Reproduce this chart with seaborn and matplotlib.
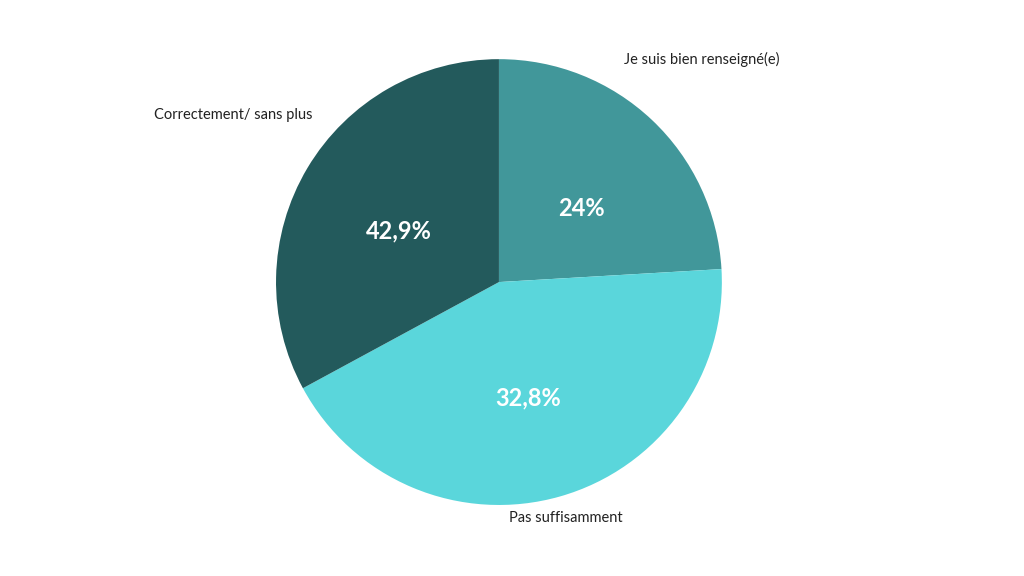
import matplotlib
matplotlib.use("Agg")
import matplotlib.pyplot as plt
import seaborn as sns

sns.set_theme(style="white")
plt.rcParams['font.family'] = ['Lato', 'DejaVu Sans']

categories = ["Je suis bien renseigné(e)", "Pas suffisamment", "Correctement/ sans plus"]
# wedge sizes as drawn in the reference (labels as printed there)
values = [24.0, 42.9, 32.8]
pct_labels = ["24%", "32,8%", "42,9%"]
colors = ["#41979A", "#5AD6DB", "#235A5C"]

cat_pos = [(0.91, 1.00), (0.30, -1.06), (-1.19, 0.75)]
pct_pos = [(0.37, 0.33), (0.13, -0.52), (-0.45, 0.23)]

fig = plt.figure(figsize=(10.24, 5.76), dpi=100)
ax = fig.add_axes([0.2695, 0.1233, 0.4355, 0.774])
ax.pie(values, colors=colors, startangle=90, counterclock=False, radius=1,
       wedgeprops=dict(linewidth=0))
ax.set_xlim(-1, 1); ax.set_ylim(-1, 1); ax.set_aspect('equal')
ax.axis('off')
for (x, y), c in zip(cat_pos, categories):
    ax.text(x, y, c, ha='center', va='center', fontsize=10.5, color='#222222', clip_on=False)
for (x, y), p in zip(pct_pos, pct_labels):
    ax.text(x, y, p, ha='center', va='center', fontsize=17, fontweight='bold', color='white')
fig.savefig("out.png", dpi=100)
